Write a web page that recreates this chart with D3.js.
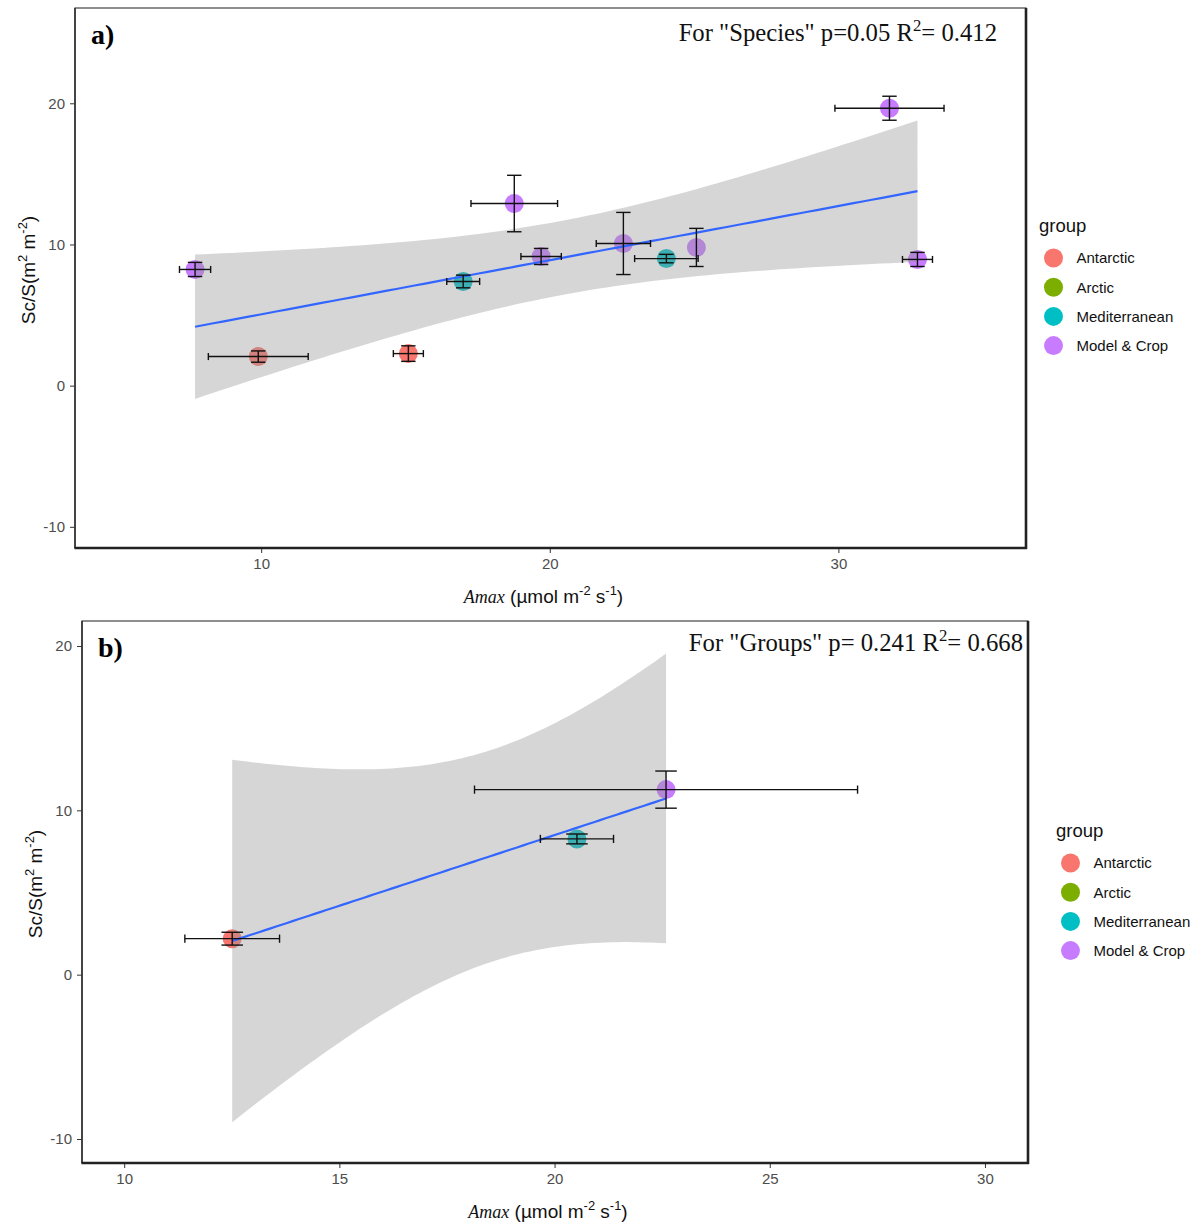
<!DOCTYPE html>
<html>
<head>
<meta charset="utf-8">
<script src="https://cdn.jsdelivr.net/npm/d3@7"></script>
<style>
  body { margin: 0; background: #fff; }
  svg { display: block; }
</style>
</head>
<body>
<svg id="chart" width="1199" height="1222"></svg>
<script>
// ---- data ----------------------------------------------------------
const groups = ["Antarctic", "Arctic", "Mediterranean", "Model & Crop"];
const groupColors = ["#F8766D", "#7CAE00", "#00BFC4", "#C77CFF"];

// species means (Amax, Sc/S) with standard errors
const speciesGroup = ["Model & Crop", "Antarctic", "Antarctic", "Mediterranean", "Model & Crop",
  "Model & Crop", "Model & Crop", "Mediterranean", "Model & Crop", "Model & Crop", "Model & Crop"];
const speciesAmax   = [7.71, 9.90, 15.10, 17.00, 18.77, 19.70, 22.55, 24.04, 25.08, 31.77, 32.74];
const speciesAmaxSe = [0.54, 1.73, 0.52, 0.57, 1.50, 0.70, 0.94, 1.10, 0.00, 1.89, 0.52];
const speciesSc     = [8.23, 2.06, 2.27, 7.38, 12.90, 9.15, 10.07, 9.00, 9.79, 19.65, 8.94];
const speciesScSe   = [0.50, 0.40, 0.55, 0.45, 2.00, 0.57, 2.20, 0.30, 1.35, 0.85, 0.50];

// group means
const groupMeanGroup = ["Antarctic", "Mediterranean", "Model & Crop"];
const groupAmax   = [12.51, 20.52, 22.59];
const groupAmaxSe = [1.10, 0.85, 4.45];
const groupSc     = [2.19, 8.26, 11.26];
const groupScSe   = [0.39, 0.30, 1.13];

const xTicksA = [10, 20, 30];
const xTicksB = [10, 15, 20, 25, 30];
const yTicks  = [-10, 0, 10, 20];

// two-sided 95% t critical values by degrees of freedom
const tCrit975 = [NaN, 12.706, 4.303, 3.182, 2.776, 2.571, 2.447, 2.365, 2.306, 2.262, 2.228];

// ---- helpers -------------------------------------------------------
const color = d3.scaleOrdinal().domain(groups).range(groupColors);
const svg = d3.select("#chart");
const SANS = "'Liberation Sans', Arial, sans-serif";
const SERIF = "'Liberation Serif', 'Times New Roman', serif";

function linearFit(xs, ys) {
  const n = xs.length, mx = d3.mean(xs), my = d3.mean(ys);
  let sxx = 0, sxy = 0;
  xs.forEach((x, i) => { sxx += (x - mx) ** 2; sxy += (x - mx) * (ys[i] - my); });
  const slope = sxy / sxx, icpt = my - slope * mx;
  const sse = d3.sum(xs, (x, i) => (ys[i] - (icpt + slope * x)) ** 2);
  const s = Math.sqrt(sse / (n - 2));
  const t = tCrit975[n - 2];
  const [lo, hi] = d3.extent(xs);
  return d3.range(80).map(i => {
    const x = lo + (hi - lo) * i / 79;
    const fit = icpt + slope * x;
    const hw = t * s * Math.sqrt(1 / n + (x - mx) ** 2 / sxx);
    return { x, fit, lo: fit - hw, hi: fit + hw };
  });
}

function superText(sel, parts) {
  // parts: [text, isSup, "down" to return to the baseline]
  parts.forEach(([t, sup, extra]) => {
    const ts = sel.append("tspan").text(t);
    if (sup) ts.attr("font-size", "0.68em").attr("dy", "-0.62em");
    else if (extra === "down") ts.attr("dy", "0.42em");
  });
}

function drawPanel(cfg) {
  const { box, xDomain, yDomain, xTicks, xs, xse, ys, yse, grp, tag, note, legendPos } = cfg;
  const x = d3.scaleLinear().domain(xDomain).range([box.x0, box.x1]);
  const y = d3.scaleLinear().domain(yDomain).range([box.y1, box.y0]);
  const g = svg.append("g");

  // axes ticks and labels
  const fmt = d => String(d);
  const xAxis = d3.axisBottom(x).tickValues(xTicks).tickSize(5).tickPadding(5).tickFormat(fmt);
  const yAxis = d3.axisLeft(y).tickValues(yTicks).tickSize(5).tickPadding(5).tickFormat(fmt);
  const gx = g.append("g").attr("transform", `translate(0,${box.y1})`).call(xAxis);
  const gy = g.append("g").attr("transform", `translate(${box.x0},0)`).call(yAxis);
  [gx, gy].forEach(a => {
    a.select(".domain").remove();
    a.selectAll(".tick line").attr("stroke", "#333").attr("stroke-width", 1);
    a.selectAll(".tick text").attr("fill", "#4D4D4D").attr("font-family", SANS).attr("font-size", 15);
  });

  const pts = xs.map((v, i) => ({ x: v, xe: xse[i], y: ys[i], ye: yse[i], g: grp[i] }));

  // points
  g.append("g").selectAll("circle").data(pts).join("circle")
    .attr("cx", d => x(d.x)).attr("cy", d => y(d.y)).attr("r", 9.5)
    .attr("fill", d => color(d.g));

  // linear fit with 95% confidence band
  const curve = linearFit(xs, ys);
  g.append("path").datum(curve)
    .attr("d", d3.area().x(d => x(d.x)).y0(d => y(d.lo)).y1(d => y(d.hi)))
    .attr("fill", "#999999").attr("fill-opacity", 0.4);
  g.append("path").datum(curve)
    .attr("d", d3.line().x(d => x(d.x)).y(d => y(d.fit)))
    .attr("fill", "none").attr("stroke", "#3366FF").attr("stroke-width", 2.2);

  // error bars (cap sizes in data units)
  const eb = g.append("g").attr("stroke", "#111").attr("stroke-width", 1.4).attr("fill", "none");
  const capX = 0.25, capY = 0.25;
  pts.forEach(d => {
    eb.append("line").attr("x1", x(d.x)).attr("x2", x(d.x)).attr("y1", y(d.y - d.ye)).attr("y2", y(d.y + d.ye));
    [d.y - d.ye, d.y + d.ye].forEach(v =>
      eb.append("line").attr("x1", x(d.x - capX)).attr("x2", x(d.x + capX)).attr("y1", y(v)).attr("y2", y(v)));
    if (d.xe > 0) {
      eb.append("line").attr("x1", x(d.x - d.xe)).attr("x2", x(d.x + d.xe)).attr("y1", y(d.y)).attr("y2", y(d.y));
      [d.x - d.xe, d.x + d.xe].forEach(v =>
        eb.append("line").attr("x1", x(v)).attr("x2", x(v)).attr("y1", y(d.y - capY)).attr("y2", y(d.y + capY)));
    }
  });

  // panel frame
  g.append("rect").attr("x", box.x0).attr("y", box.y0)
    .attr("width", box.x1 - box.x0).attr("height", box.y1 - box.y0)
    .attr("fill", "none").attr("stroke", "#444").attr("stroke-width", 1.2);
  g.append("line").attr("x1", box.x0).attr("x2", box.x0).attr("y1", box.y0).attr("y2", box.y1)
    .attr("stroke", "#333").attr("stroke-width", 1.6);
  g.append("line").attr("x1", box.x0 - 0.5).attr("x2", box.x1 + 1).attr("y1", box.y1).attr("y2", box.y1)
    .attr("stroke", "#222").attr("stroke-width", 2.6);
  g.append("line").attr("x1", box.x1).attr("x2", box.x1).attr("y1", box.y0).attr("y2", box.y1 + 1)
    .attr("stroke", "#222").attr("stroke-width", 2.6);

  // panel tag
  g.append("text").attr("x", box.x0 + 16).attr("y", box.y0 + 36)
    .attr("font-family", SERIF).attr("font-weight", "bold").attr("font-size", 28).text(tag);

  // statistics note
  const nt = g.append("text").attr("x", note.x).attr("y", note.y).attr("text-anchor", "end")
    .attr("font-family", SERIF).attr("font-size", 24.7).attr("fill", "#111");
  superText(nt, [[note.pre, false], ["2", true], ["= " + note.r2, false, "down"]]);

  // axis titles
  const xt = g.append("text").attr("x", (box.x0 + box.x1) / 2 - 7).attr("y", box.y1 + 55)
    .attr("text-anchor", "middle").attr("font-family", SANS).attr("font-size", 19).attr("fill", "#111");
  xt.append("tspan").attr("font-family", SERIF).attr("font-style", "italic").attr("font-size", 18).text("Amax");
  superText(xt, [[" (µmol m", false], ["-2", true], [" s", false, "down"], ["-1", true], [")", false, "down"]]);

  const yt = g.append("text")
    .attr("transform", `translate(${box.x0 - 40},${(box.y0 + box.y1) / 2 - 8}) rotate(-90)`)
    .attr("text-anchor", "middle").attr("font-family", SANS).attr("font-size", 19).attr("fill", "#111");
  superText(yt, [["Sc/S(m", false], ["2", true], [" m", false, "down"], ["-2", true], [")", false, "down"]]);

  // legend
  const lg = g.append("g").attr("transform", `translate(${legendPos.x},${legendPos.y})`);
  lg.append("text").attr("x", 0).attr("y", 0).attr("font-family", SANS).attr("font-size", 18.5)
    .attr("fill", "#111").text("group");
  groups.forEach((name, i) => {
    const cy = 26 + i * 29.2;
    lg.append("circle").attr("cx", 14.5).attr("cy", cy).attr("r", 9.5).attr("fill", color(name));
    lg.append("text").attr("x", 37.5).attr("y", cy + 5.3).attr("font-family", SANS).attr("font-size", 15)
      .attr("fill", "#111").text(name);
  });
}

drawPanel({
  box: { x0: 75, x1: 1026, y0: 8, y1: 548 },
  xDomain: [3.55, 36.5], yDomain: [-11.5, 26.75], xTicks: xTicksA,
  xs: speciesAmax, xse: speciesAmaxSe, ys: speciesSc, yse: speciesScSe, grp: speciesGroup,
  tag: "a)",
  note: { x: 997, y: 41, pre: 'For "Species" p=0.05 R', r2: "0.412" },
  legendPos: { x: 1039, y: 232 }
});

drawPanel({
  box: { x0: 82, x1: 1028, y0: 621, y1: 1163 },
  xDomain: [9.02, 31.0], yDomain: [-11.46, 21.52], xTicks: xTicksB,
  xs: groupAmax, xse: groupAmaxSe, ys: groupSc, yse: groupScSe, grp: groupMeanGroup,
  tag: "b)",
  note: { x: 1023, y: 651, pre: 'For "Groups" p= 0.241 R', r2: "0.668" },
  legendPos: { x: 1056, y: 837 }
});
</script>
</body>
</html>
